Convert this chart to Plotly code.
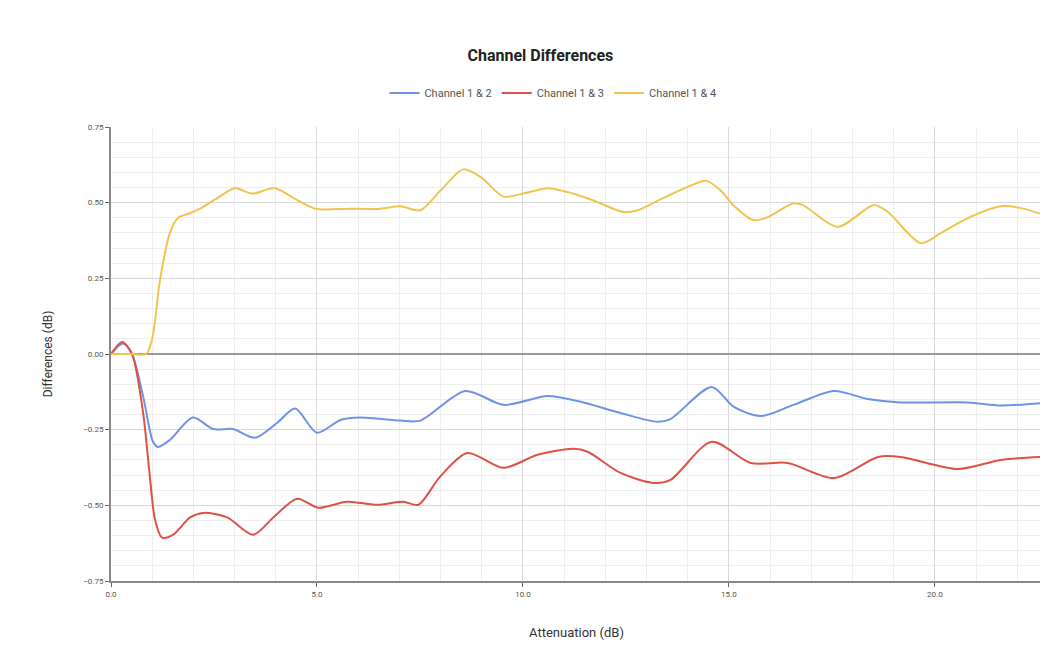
import plotly.graph_objects as go

x_12 = [0, 0.29, 0.51, 0.78, 1.02, 1.14, 1.43, 1.99, 2.48, 2.96, 3.5, 4.03, 4.47, 5.0, 5.57, 6.05,
        7.02, 7.51, 8.6, 9.53, 10.6, 11.4, 12.37, 13.27, 13.58, 14.58, 15.12, 15.77, 16.57, 17.55,
        18.37, 19.17, 20.8, 21.6, 22.58]
y_12 = [0, 0.035, 0, -0.14, -0.29, -0.307, -0.284, -0.21, -0.248, -0.248, -0.277, -0.228, -0.18,
        -0.26, -0.218, -0.21, -0.22, -0.22, -0.122, -0.168, -0.139, -0.158, -0.195, -0.224, -0.215,
        -0.109, -0.175, -0.205, -0.168, -0.122, -0.149, -0.16, -0.16, -0.17, -0.162]

x_13 = [0, 0.27, 0.51, 0.78, 0.95, 1.07, 1.24, 1.51, 1.92, 2.24, 2.82, 3.45, 3.94, 4.52, 5.03, 5.73,
        6.46, 7.09, 7.46, 7.99, 8.65, 9.53, 10.35, 11.23, 11.57, 12.37, 13.17, 13.58, 14.58, 15.53,
        16.43, 17.55, 18.62, 19.17, 20.56, 21.6, 22.58]
y_13 = [0, 0.04, 0, -0.195, -0.415, -0.548, -0.607, -0.597, -0.54, -0.525, -0.54, -0.597, -0.54,
        -0.478, -0.508, -0.488, -0.498, -0.488, -0.498, -0.405, -0.327, -0.376, -0.333, -0.313,
        -0.323, -0.393, -0.426, -0.416, -0.29, -0.36, -0.36, -0.41, -0.34, -0.34, -0.38, -0.35, -0.34]

x_14 = [0, 0.5, 0.85, 1.0, 1.19, 1.43, 1.63, 1.92, 2.16, 2.58, 3.0, 3.43, 3.98, 4.5, 4.96, 5.8, 6.54,
        7.02, 7.51, 8.0, 8.55, 8.97, 9.53, 10.0, 10.6, 11.08, 11.7, 12.44, 12.78, 13.4, 14.0, 14.45,
        14.8, 15.12, 15.6, 15.94, 16.57, 16.8, 17.64, 18.52, 18.86, 19.66, 20.15, 20.8, 21.6, 22.09, 22.6]
y_14 = [0, 0, 0, 0.05, 0.245, 0.40, 0.45, 0.465, 0.48, 0.515, 0.548, 0.53, 0.548, 0.51, 0.48, 0.48,
        0.48, 0.488, 0.475, 0.54, 0.61, 0.585, 0.52, 0.53, 0.548, 0.535, 0.508, 0.469, 0.475, 0.515,
        0.552, 0.572, 0.54, 0.49, 0.442, 0.452, 0.498, 0.492, 0.42, 0.492, 0.469, 0.366, 0.40, 0.449,
        0.488, 0.482, 0.462]

names = ["Channel 1 & 2", "Channel 1 & 3", "Channel 1 & 4"]
colors = ["#6f92e6", "#de5246", "#f2c44f"]
xs = [x_12, x_13, x_14]
ys = [y_12, y_13, y_14]

x_ticks = [0, 5, 10, 15, 20]
y_ticks = [-0.75, -0.5, -0.25, 0, 0.25, 0.5, 0.75]

fig = go.Figure()
for xv, yv, n, c in zip(xs, ys, names, colors):
    fig.add_trace(go.Scatter(x=xv, y=yv, name=n, mode="lines",
                             line=dict(color=c, width=2, shape="spline", smoothing=0.8)))

fig.update_layout(
    width=1048, height=664,
    margin=dict(l=103, r=14, t=119, b=91),
    paper_bgcolor="white", plot_bgcolor="white",
    font=dict(family="Roboto, Arial, sans-serif", color="#444"),
    title=dict(text="<b>Channel Differences</b>", x=0.508, xanchor="center", y=0.929,
               yanchor="middle", font=dict(size=16, color="#222")),
    legend=dict(orientation="h", xref="container", x=0.52, xanchor="center",
                yref="container", y=0.872, yanchor="middle",
                font=dict(size=11, color="#555")),
    showlegend=True,
)
fig.update_xaxes(
    range=[0, 22.6], tickvals=x_ticks, tickformat=".1f",
    showgrid=True, gridcolor="#d8d8d8", gridwidth=1,
    minor=dict(dtick=1, showgrid=True, gridcolor="#eeeeee"),
    showline=True, linecolor="#888", linewidth=2,
    ticks="outside", ticklen=4, tickcolor="#666",
    tickfont=dict(size=8, color="#555"), zeroline=False,
    title=dict(text="Attenuation (dB)", font=dict(size=13, color="#333"), standoff=30),
)
fig.update_yaxes(
    range=[-0.75, 0.75], tickvals=y_ticks, tickformat=".2f",
    showgrid=True, gridcolor="#d8d8d8", gridwidth=1,
    minor=dict(dtick=0.05, showgrid=True, gridcolor="#eeeeee"),
    showline=True, linecolor="#888", linewidth=2,
    ticks="outside", ticklen=4, tickcolor="#666",
    tickfont=dict(size=8, color="#555"),
    zeroline=True, zerolinecolor="#999", zerolinewidth=2,
    title=dict(text="Differences (dB)", font=dict(size=12, color="#333"), standoff=28),
)

fig.write_html("out.html")
